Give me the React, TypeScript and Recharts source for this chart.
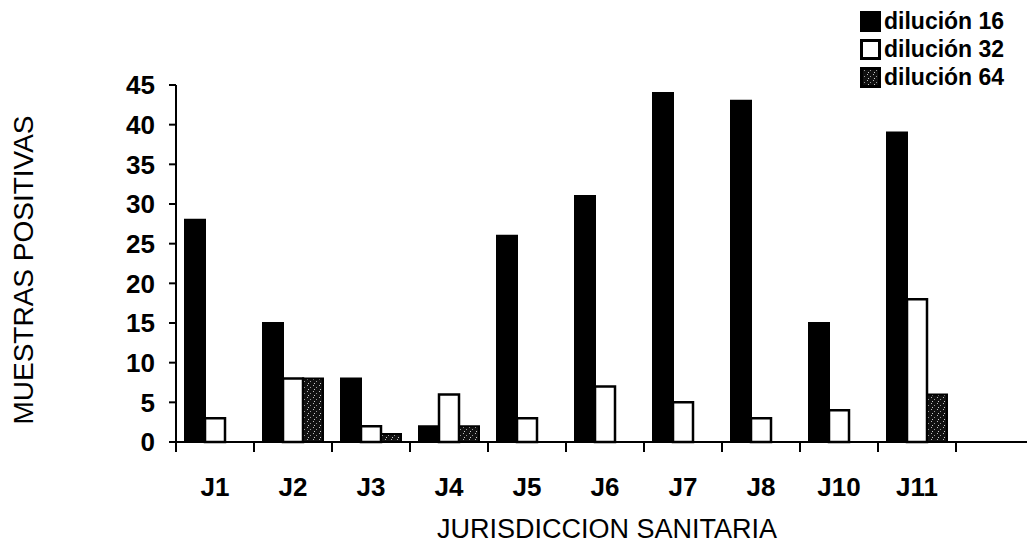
import { BarChart, Bar, XAxis, YAxis, Legend } from 'recharts';

const categories = ['J1', 'J2', 'J3', 'J4', 'J5', 'J6', 'J7', 'J8', 'J10', 'J11', ''];
const dil16 = [28, 15, 8, 2, 26, 31, 44, 43, 15, 39, null];
const dil32 = [3, 8, 2, 6, 3, 7, 5, 3, 4, 18, null];
const dil64 = [0, 8, 1, 2, 0, 0, 0, 0, 0, 6, null];
const yTicks = [0, 5, 10, 15, 20, 25, 30, 35, 40, 45];

const seriesNames = ['dilución 16', 'dilución 32', 'dilución 64'];

const font = '"Liberation Sans", Arial, Helvetica, sans-serif';
const BAND = 78; // one category slot, px

const data = categories.map((c, i) => ({
    name: c,
    d16: dil16[i],
    d32: dil32[i],
    d64: dil64[i],
}));

function XTick(props: any) {
    const { x, y, payload } = props;
    return (
        <g>
            <line x1={x - BAND / 2} x2={x - BAND / 2} y1={y} y2={y + 10} stroke="#000" strokeWidth={2} />
            {payload.value ? (
                <text x={x} y={y + 54} textAnchor="middle" fontSize={26} fontWeight="bold" fontFamily={font} fill="#000">
                    {payload.value}
                </text>
            ) : null}
        </g>
    );
}

function YTitle() {
    return (
        <text x={33} y={270} transform="rotate(-90, 33, 270)" textAnchor="middle" fontSize={28} fontFamily={font} fill="#000">
            MUESTRAS POSITIVAS
        </text>
    );
}

function XTitle() {
    return (
        <text x={607} y={538} textAnchor="middle" fontSize={27} fontFamily={font} fill="#000">
            JURISDICCION SANITARIA
        </text>
    );
}

function Swatch({ kind }: { kind: number }) {
    const fill = kind === 0 ? '#000' : kind === 1 ? '#fff' : 'url(#dots)';
    return (
        <svg width={21} height={21} style={{ display: 'block' }}>
            <rect x={1.5} y={1.5} width={18} height={18} fill={fill} stroke="#000" strokeWidth={3} />
        </svg>
    );
}

function LegendBox() {
    return (
        <div style={{ fontFamily: font, fontSize: 23, fontWeight: 'bold', color: '#000' }}>
            {seriesNames.map((n, i) => (
                <div key={n} style={{ display: 'flex', alignItems: 'center', height: 28 }}>
                    <Swatch kind={i} />
                    <span style={{ marginLeft: 3, lineHeight: '28px' }}>{n}</span>
                </div>
            ))}
        </div>
    );
}

export default function App() {
    return (
        <div style={{ position: 'absolute', left: 0, top: 0, width: 1027, height: 543, overflow: 'hidden', background: '#fff' }}>
            <BarChart
                width={1050}
                height={543}
                data={data}
                margin={{ top: 85, right: 16, bottom: 31, left: 0 }}
                barGap={0}
                barSize={20}
            >
                <defs>
                    <pattern id="dots" width="6" height="6" patternUnits="userSpaceOnUse">
                        <rect width="6" height="6" fill="#111" />
                        <rect x="1" y="1" width="1" height="1" fill="#bbb" />
                        <rect x="4" y="3" width="1" height="1" fill="#999" />
                        <rect x="2" y="5" width="1" height="1" fill="#ccc" />
                    </pattern>
                </defs>
                <XAxis
                    dataKey="name"
                    height={70}
                    interval={0}
                    tickSize={0}
                    tickMargin={0}
                    tickLine={false}
                    axisLine={{ stroke: '#000', strokeWidth: 2 }}
                    tick={<XTick />}
                    label={<XTitle />}
                />
                <YAxis
                    width={176}
                    domain={[0, 45]}
                    ticks={yTicks}
                    interval={0}
                    tickSize={7}
                    tickMargin={14}
                    axisLine={{ stroke: '#000', strokeWidth: 2 }}
                    tickLine={{ stroke: '#000', strokeWidth: 2 }}
                    tick={{ fontSize: 26, fontWeight: 'bold', fill: '#000', fontFamily: font }}
                    label={<YTitle />}
                />
                <Legend
                    layout="vertical"
                    align="center"
                    verticalAlign="middle"
                    content={<LegendBox />}
                    wrapperStyle={{ top: 7, left: 860, width: 167 }}
                />
                <Bar dataKey="d16" name={seriesNames[0]} fill="#000" stroke="#000" strokeWidth={2} isAnimationActive={false} />
                <Bar dataKey="d32" name={seriesNames[1]} fill="#fff" stroke="#000" strokeWidth={2.5} isAnimationActive={false} />
                <Bar dataKey="d64" name={seriesNames[2]} fill="url(#dots)" stroke="#000" strokeWidth={2} isAnimationActive={false} />
            </BarChart>
        </div>
    );
}
